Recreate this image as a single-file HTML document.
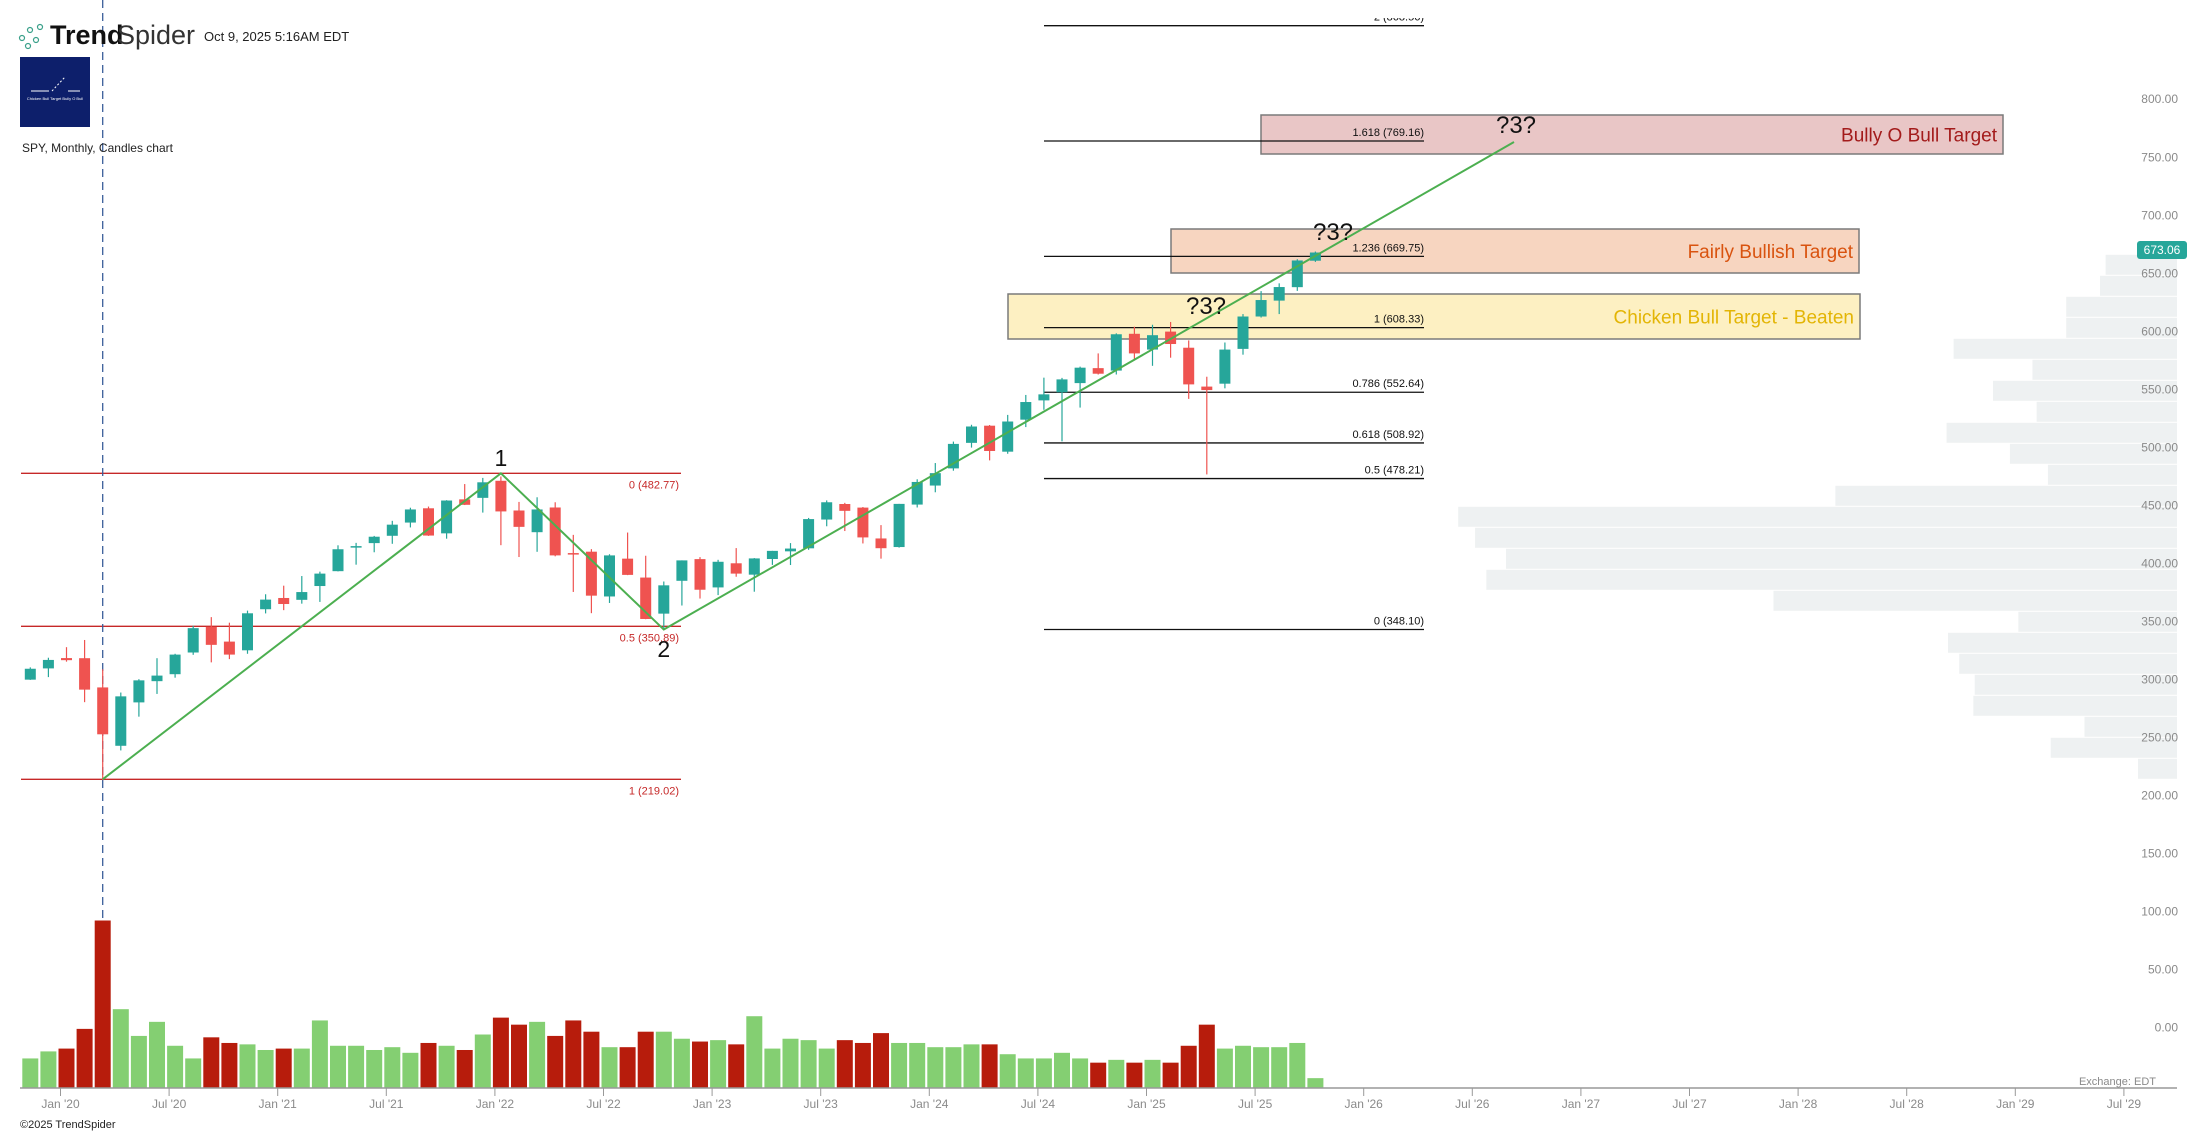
<!DOCTYPE html>
<html><head><meta charset="utf-8"><style>
html,body{margin:0;padding:0;background:#fff;}
svg{display:block;font-family:"Liberation Sans",sans-serif;}
</style></head><body>
<svg id="c" width="2207" height="1134" viewBox="0 0 2207 1134" xmlns="http://www.w3.org/2000/svg">
<rect width="2207" height="1134" fill="#fff"/>
<g id="vp"></g>
<g id="ann"></g>
<g id="cd"></g>
<g id="top"></g>
</svg>
<script>
const NS="http://www.w3.org/2000/svg";
function el(p,t,a,txt){const e=document.createElementNS(NS,t);for(const k in a)e.setAttribute(k,a[k]);if(txt!==undefined)e.textContent=txt;document.getElementById(p).appendChild(e);return e;}
const Y=p=>1033.4-1.1602*p;
const X=m=>66.5+18.1*m;
const vpL=[1496,1492,1468,1468,1388,1444,1416,1447,1383,1428,1455,1304,1036,1048,1070,1056,1260,1434,1384,1392,1403,1402,1481,1457,1519];
vpL.forEach((l,i)=>{const y=254.8+i*21;el('vp','rect',{x:l*1.4075,y:y,width:2177-l*1.4075,height:20,fill:'#eef1f2'});});
for(let p=0;p<=800;p+=50){el('top','text',{x:2178,y:Y(p)-2,'text-anchor':'end','font-size':12,fill:'#8a8a8a'},p.toFixed(2));}
el('top','rect',{x:2137,y:241,width:50,height:18,rx:3,fill:'#26a69a'});
el('top','text',{x:2162,y:254,'text-anchor':'middle','font-size':12,fill:'#fff'},'673.06');
function box(x1,y1,x2,y2,fill,txt,col){el('ann','rect',{x:x1,y:y1,width:x2-x1,height:y2-y1,fill:fill,stroke:'#7a7a7a','stroke-width':1.5});
 el('ann','text',{x:x2-6,y:(y1+y2)/2+7,'text-anchor':'end','font-size':19,fill:col},txt);}
box(1261,115,2003,154,'#e9c6c6','Bully O Bull Target','#a31b1b');
box(1171,229,1859,273,'#f7d5c0','Fairly Bullish Target','#d9530f');
box(1008,294,1860,339,'#fdf0c2','Chicken Bull Target - Beaten','#e3b505');
const fr=[[2,868.56],[1.618,769.16],[1.236,669.75],[1,608.33],[0.786,552.64],[0.618,508.92],[0.5,478.21],[0,348.10]];
fr.forEach(([k,v])=>{const y=Y(v);el('ann','line',{x1:1044,x2:1424,y1:y,y2:y,stroke:'#111','stroke-width':1.3});
 el('ann','text',{x:1424,y:y-5,'text-anchor':'end','font-size':11,fill:'#111'},k+' ('+v.toFixed(2)+')');});
el('ann','rect',{x:1040,y:0,width:400,height:18,fill:'#fff'});
[[0,482.77],[0.5,350.89],[1,219.02]].forEach(([k,v])=>{const y=Y(v);el('ann','line',{x1:21,x2:681,y1:y,y2:y,stroke:'#c62828','stroke-width':1.3});
 el('ann','text',{x:679,y:y+15,'text-anchor':'end','font-size':11,fill:'#c62828'},k+' ('+v.toFixed(2)+')');});
el('ann','line',{x1:102.7,x2:102.7,y1:0,y2:1089,stroke:'#3a5f9a','stroke-width':1.3,'stroke-dasharray':'8,5'});
const D=[[304.9,315.5,304.7,314.3],[314.6,323.8,307.1,321.9],[323.5,332.9,320.4,321.7],[323.4,339.1,285.5,296.3],[298.2,313.8,218.3,257.8],[247.9,293.8,243.9,290.5],[285.3,305.3,273,304.3],[303.6,323.4,292.6,308.4],[309.6,327.2,306.6,326.5],[328.3,351.3,326.3,349.3],[350.4,358.8,319.8,334.9],[337.7,354.0,322.6,326.5],[330.2,364.4,327.2,362.1],[365.6,378.5,362.0,373.9],[375.3,385.9,364.8,370.1],[373.7,394.2,370.4,380.4],[385.6,398.0,371.9,396.3],[398.4,420.7,398.2,417.3],[419.4,422.8,404.0,420.0],[422.6,428.8,414.7,428.1],[428.9,441.8,422,438.5],[440.3,453.1,436.1,451.6],[452.6,454.1,428.8,429.1],[431,459.6,426.4,459.3],[460.3,473.5,455.4,455.6],[461.6,478.8,448.9,475],[476.3,480,420.8,449.9],[450.7,458.1,410.6,436.6],[432.0,462.1,415.1,451.6],[453.3,457.8,411.2,412.0],[414.0,429.7,380.5,412.9],[415.2,417.4,362.2,377.3],[376.6,413.0,371.0,412],[409.2,431.7,395.0,395.2],[392.9,411.7,357.0,357.2],[361.8,389.5,348.1,386.2],[390.1,407.7,368.8,407.7],[408.8,410.5,374.8,382.4],[384.4,408.2,377.8,406.5],[405.2,418.3,393.6,396.3],[395.4,409.7,380.7,409.4],[408.9,415.9,403.8,415.9],[415.5,422.6,403.7,417.9],[418.1,444.3,416.8,443.3],[442.9,459.4,437.1,457.8],[456.3,457.3,433.0,450.4],[453.2,453.7,422.3,427.5],[426.6,438.1,409.2,418.2],[419.2,456.4,418.7,456.4],[455.8,477.6,453.3,475.3],[472.2,491.6,466.4,482.9],[487.0,510.1,485.0,508.1],[509,524.6,504.9,523.1],[523.8,524.4,493.9,502],[501.4,533.1,499.6,527.4],[529.0,550.3,522.6,544.2],[545.6,565.2,537.5,550.8],[552.6,565.0,510.3,563.7],[560.5,574.7,539.4,573.8],[573.4,586.1,567.9,568.6],[571.3,603.4,567.9,602.6],[603,609.1,580.9,586.1],[589.4,610.8,575.4,601.8],[604.9,613.2,582.4,594.2],[591.0,597.3,546.9,559.4],[557.5,566.0,481.8,554.5],[560.0,595.5,556.0,589.4],[590.0,620.0,585.0,617.9],[617.9,639.8,617.0,632.1],[631.6,646.5,620.0,643.3],[643.2,667.3,640.0,666.2],[666.0,673.9,665,673.06]];
const V=[752,747,745,731,654,717,736,726,743,752,737,741,742,746,745,745,725,743,743,746,744,748,741,743,746,735,723,728,726,736,725,733,744,744,733,733,738,740,739,742,722,745,738,739,745,739,741,734,741,741,744,744,742,742,749,752,752,748,752,755,753,755,753,755,743,728,745,743,744,744,741,766];
D.forEach((d,i)=>{const m=i-2,x=X(m),[o,h,l,c]=d,up=c>=o,col=up?'#26a69a':'#ef5350';
 el('cd','line',{x1:x,x2:x,y1:Y(h),y2:Y(l),stroke:col,'stroke-width':1.2});
 const t=Y(Math.max(o,c)),b=Y(Math.min(o,c));el('cd','rect',{x:x-5.5,y:t,width:11,height:Math.max(b-t,1.5),fill:col});
 const vt=V[i]*1.4075;el('cd','rect',{x:x-8,y:vt,width:16,height:1088-vt,fill:up?'#84cf72':'#b71c0c'});
});
el('top','polyline',{points:`${X(2)},${Y(219.02)} ${X(24)},${Y(482.77)} ${X(33)},${Y(348.1)} 1514,142`,fill:'none',stroke:'#4caf50','stroke-width':2});
el('top','text',{x:X(24),y:466,'text-anchor':'middle','font-size':23,fill:'#111'},'1');
el('top','text',{x:X(33),y:657,'text-anchor':'middle','font-size':23,fill:'#111'},'2');
[[1516,133],[1333,240],[1206,314]].forEach(([x,y])=>el('top','text',{x:x,y:y,'text-anchor':'middle','font-size':24,fill:'#111'},'?3?'));
el('top','line',{x1:20,x2:2177,y1:1088,y2:1088,stroke:'#999','stroke-width':1.5});
const lab=["Jan '20","Jul '20","Jan '21","Jul '21","Jan '22","Jul '22","Jan '23","Jul '23","Jan '24","Jul '24","Jan '25","Jul '25","Jan '26","Jul '26","Jan '27","Jul '27","Jan '28","Jul '28","Jan '29","Jul '29"];
lab.forEach((s,i)=>{const x=60.5+i*6*18.1;el('top','line',{x1:x,x2:x,y1:1088,y2:1096,stroke:'#999'});el('top','text',{x:x,y:1108,'text-anchor':'middle','font-size':12,fill:'#8a8a8a'},s);});
el('top','text',{x:2156,y:1085,'text-anchor':'end','font-size':11,fill:'#8a8a8a'},'Exchange: EDT');
el('top','text',{x:20,y:1128,'font-size':11,fill:'#222'},'©2025 TrendSpider');
[[22,38],[30,30],[36,40],[28,46],[40,27]].forEach(([x,y])=>el('top','circle',{cx:x,cy:y,r:2.5,fill:'none',stroke:'#3aa08a','stroke-width':1.2}));
el('top','text',{x:50,y:44,'font-size':27,'font-weight':'bold',fill:'#111'},'Trend');
el('top','text',{x:117,y:44,'font-size':27,fill:'#333'},'Spider');
el('top','text',{x:204,y:41,'font-size':13,fill:'#222'},'Oct 9, 2025 5:16AM EDT');
el('top','rect',{x:20,y:57,width:70,height:70,fill:'#0d1f6b'});
el('top','line',{x1:31,x2:49,y1:91,y2:91,stroke:'#fff'});el('top','line',{x1:68,x2:80,y1:91,y2:91,stroke:'#fff'});
el('top','line',{x1:52,x2:65,y1:91,y2:77,stroke:'#fff','stroke-dasharray':'2,2'});
el('top','text',{x:55,y:100,'text-anchor':'middle','font-size':4,fill:'#fff'},'Chicken Bull Target Bully O Bull');
el('top','text',{x:22,y:152,'font-size':12,fill:'#222'},'SPY, Monthly, Candles chart');
</script>
</body></html>
